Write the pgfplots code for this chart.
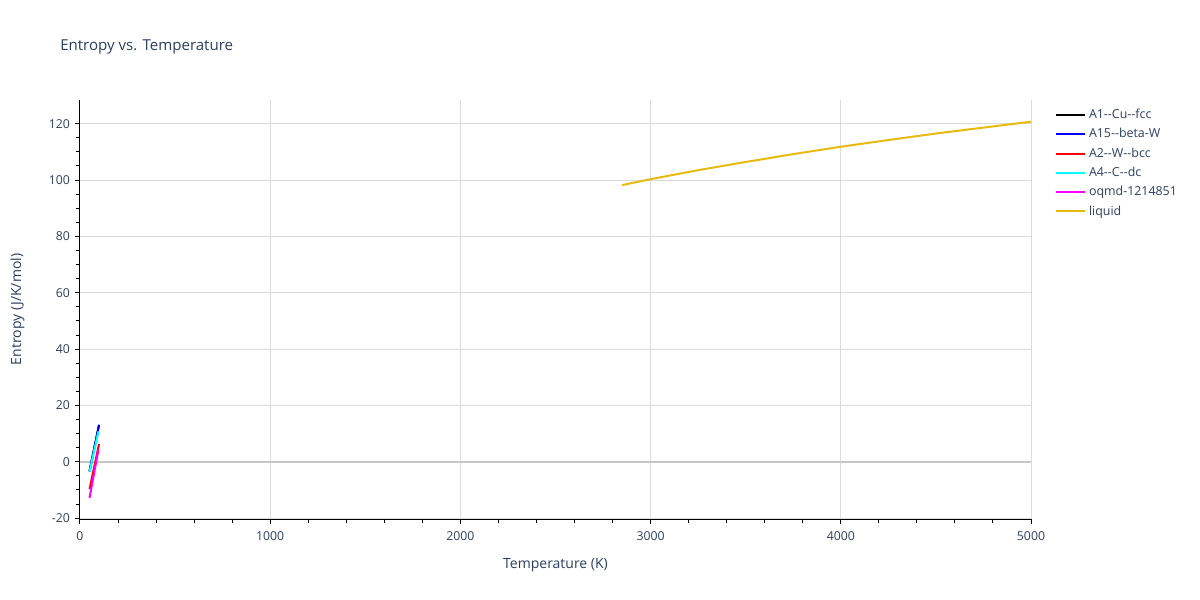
\documentclass[border=0pt]{standalone}
\usepackage{pgfplots}
\pgfplotsset{compat=1.18}
\usepackage{fontspec}
\setmainfont{Open Sans}
\definecolor{txt}{HTML}{2A3F5F}
\definecolor{gridc}{HTML}{DCDCDC}
\definecolor{liq}{HTML}{E8B90F}
\definecolor{cy}{HTML}{00FFFF}
\definecolor{mg}{HTML}{FF00FF}
\definecolor{rd}{HTML}{FF0000}
\definecolor{bl}{HTML}{0000FF}
\begin{document}
\begin{tikzpicture}[x=0.75pt,y=0.75pt]
% page frame in reference pixels, origin at the plot's lower left corner
\path (-80,-81) rectangle (1120,519);
\node[anchor=west, text=txt, font=\fontsize{11.3}{13}\selectfont, inner sep=0pt] at (-20,472) {Entropy vs. Temperature};
\begin{axis}[
    at={(0,0)}, anchor=south west,
    scale only axis,
    width=713.25pt, height=314.25pt,
    xmin=0, xmax=5000,
    ymin=-20.3, ymax=128.4,
    axis x line*=bottom, axis y line*=left,
    axis line style={black, line width=0.75pt},
    xtick={0,1000,...,5000},
    ytick={-20,0,...,120},
    minor x tick num=4,
    minor y tick num=3,
    tick align=outside,
    major tick length=4pt, minor tick length=3pt,
    tick style={black, line width=0.75pt},
    xmajorgrids, ymajorgrids,
    major grid style={gridc, line width=0.75pt},
    minor grid style={draw=none},
    extra y ticks={0},
    extra y tick labels={},
    extra y tick style={major tick length=0pt, major grid style={gray!45, line width=1.5pt}},
    ticklabel style={text=txt, font=\fontsize{9.2}{10}\selectfont},
    xticklabel style={yshift=-2pt},
    /pgf/number format/assume math mode=true,
    /pgf/number format/1000 sep={},
    scaled ticks=false,
    xlabel={Temperature (K)},
    ylabel={Entropy (J/K/mol)},
    label style={text=txt, font=\fontsize{10.5}{12}\selectfont},
    xlabel style={yshift=-6.5pt},
    ylabel style={yshift=7.5pt},
    legend style={at={(axis description cs:1.025,0.985)}, anchor=north west,
      draw=none, fill=none, text=txt, font=\fontsize{9.3}{10}\selectfont,
      row sep=1.9pt, inner sep=0pt},
    legend cell align=left,
    legend image code/.code={\draw[#1, line width=1.5pt] (0pt,0pt) -- (22pt,0pt);},
    every axis plot/.append style={line width=1.5pt},
  ]
\addplot[black] coordinates {(50,-3.4) (100,13.1)};
\addlegendentry{A1{-}{-}Cu{-}{-}fcc}
\addplot[bl] coordinates {(50,-3.4) (100,13.1)};
\addlegendentry{A15{-}{-}beta-W}
\addplot[rd] coordinates {(50,-9.7) (100,6.3)};
\addlegendentry{A2{-}{-}W{-}{-}bcc}
\addplot[cy] coordinates {(50,-3.6) (97,10.8)};
\addlegendentry{A4{-}{-}C{-}{-}dc}
\addplot[mg] coordinates {(50,-12.8) (97,4.3)};
\addlegendentry{oqmd-1214851}
\addplot[liq] coordinates {(2850,98.2) (3000,100.3) (3250,103.5) (3500,106.4) (3750,109.2) (4000,111.8) (4250,114.2) (4500,116.5) (4750,118.6) (5000,120.7)};
\addlegendentry{liquid}
\end{axis}
\end{tikzpicture}
\end{document}
